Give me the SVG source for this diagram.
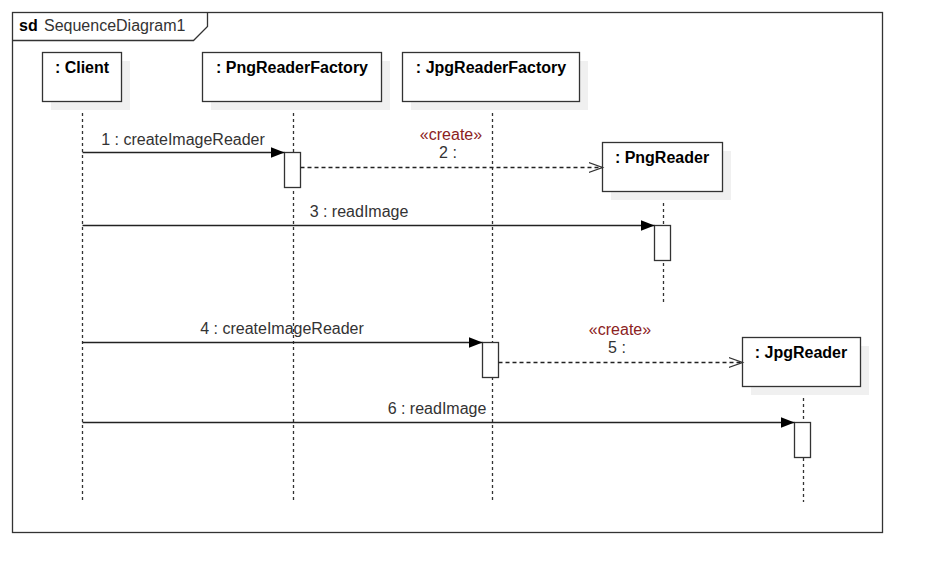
<svg xmlns="http://www.w3.org/2000/svg" width="932" height="582" viewBox="0 0 932 582">
<style>
  text { font-family: "Liberation Sans", Arial, sans-serif; font-size: 16px; fill: #333; }
  .title { font-weight: bold; fill: #000; text-anchor: middle; }
  .lbl { text-anchor: middle; }
  .st { fill: #8b2222; text-anchor: middle; }
  .box { fill: #fff; stroke: #333; stroke-width: 1.3; }
  .shadow { fill: #f0f0f0; }
  .life { stroke: #333; stroke-width: 1.3; stroke-dasharray: 3 3; fill: none; }
  .act { fill: #fff; stroke: #333; stroke-width: 1.3; }
  .msg { stroke: #222; stroke-width: 1.3; fill: none; }
  .dash { stroke: #222; stroke-width: 1.3; stroke-dasharray: 4 3; fill: none; }
</style>
<defs>
  <marker id="filled" markerWidth="15" markerHeight="12" refX="14" refY="5.5" orient="auto" markerUnits="userSpaceOnUse">
    <path d="M0,0 L14,5.5 L0,11 Z" fill="#000"/>
  </marker>
  <marker id="open" markerWidth="16" markerHeight="12" refX="14" refY="5.5" orient="auto" markerUnits="userSpaceOnUse">
    <path d="M0,0.5 L14,5.5 L0,10.5" fill="none" stroke="#333" stroke-width="1.3"/>
  </marker>
</defs>
<rect width="932" height="582" fill="#fff"/>
<g id="frame">
  <rect x="12.5" y="12.5" width="870" height="520" fill="none" stroke="#333" stroke-width="1.3"/>
  <path d="M12.5,40.5 L193.5,40.5 L207.5,26.5 L207.5,12.5" fill="none" stroke="#333" stroke-width="1.3"/>
  <text x="19" y="31" style="font-weight:bold;fill:#000">sd</text>
  <text x="44" y="31">SequenceDiagram1</text>
</g>
<g id="lifelines">
  <line class="life" x1="82.5" y1="101" x2="82.5" y2="502"/>
  <line class="life" x1="293.5" y1="101" x2="293.5" y2="502"/>
  <line class="life" x1="492.5" y1="101" x2="492.5" y2="502"/>
  <line class="life" x1="663.5" y1="191" x2="663.5" y2="302"/>
  <line class="life" x1="803.5" y1="386" x2="803.5" y2="502"/>
</g>
<g id="client">
  <rect class="shadow" x="51" y="61" width="79" height="49"/>
  <rect class="box" x="42.5" y="52.5" width="79" height="49"/>
  <text class="title" x="82" y="73">: Client</text>
</g>
<g id="pngReaderFactory">
  <rect class="shadow" x="211" y="61" width="179" height="49"/>
  <rect class="box" x="202.5" y="52.5" width="179" height="49"/>
  <text class="title" x="292" y="73">: PngReaderFactory</text>
</g>
<g id="jpgReaderFactory">
  <rect class="shadow" x="411" y="61" width="177" height="49"/>
  <rect class="box" x="402.5" y="52.5" width="177" height="49"/>
  <text class="title" x="491" y="73">: JpgReaderFactory</text>
</g>
<g id="pngReader">
  <rect class="shadow" x="611" y="151" width="120" height="49"/>
  <rect class="box" x="602.5" y="142.5" width="120" height="49"/>
  <text class="title" x="662" y="163">: PngReader</text>
</g>
<g id="jpgReader">
  <rect class="shadow" x="751" y="346" width="118" height="49"/>
  <rect class="box" x="742.5" y="337.5" width="118" height="49"/>
  <text class="title" x="801" y="358">: JpgReader</text>
</g>
<g id="activations">
  <rect class="act" x="284.5" y="152.5" width="16" height="35"/>
  <rect class="act" x="654.5" y="225.5" width="16" height="35"/>
  <rect class="act" x="482.5" y="342.5" width="16" height="35"/>
  <rect class="act" x="794.5" y="422.5" width="16" height="35"/>
</g>
<g id="connectors">
  <line class="msg" x1="82.5" y1="152.5" x2="284.5" y2="152.5" marker-end="url(#filled)"/>
  <line class="dash" x1="300.5" y1="167.5" x2="602.5" y2="167.5" marker-end="url(#open)"/>
  <line class="msg" x1="82.5" y1="225.5" x2="654.5" y2="225.5" marker-end="url(#filled)"/>
  <line class="msg" x1="82.5" y1="342.5" x2="482.5" y2="342.5" marker-end="url(#filled)"/>
  <line class="dash" x1="498.5" y1="362.5" x2="742.5" y2="362.5" marker-end="url(#open)"/>
  <line class="msg" x1="82.5" y1="422.5" x2="794.5" y2="422.5" marker-end="url(#filled)"/>
  <text class="lbl" x="183" y="145">1 : createImageReader</text>
  <text class="st" x="451" y="140">«create»</text>
  <text class="lbl" x="448" y="158">2 :</text>
  <text class="lbl" x="359" y="217">3 : readImage</text>
  <text class="lbl" x="282" y="334">4 : createImageReader</text>
  <text class="st" x="620" y="335">«create»</text>
  <text class="lbl" x="617" y="353">5 :</text>
  <text class="lbl" x="437" y="414">6 : readImage</text>
</g>
</svg>
